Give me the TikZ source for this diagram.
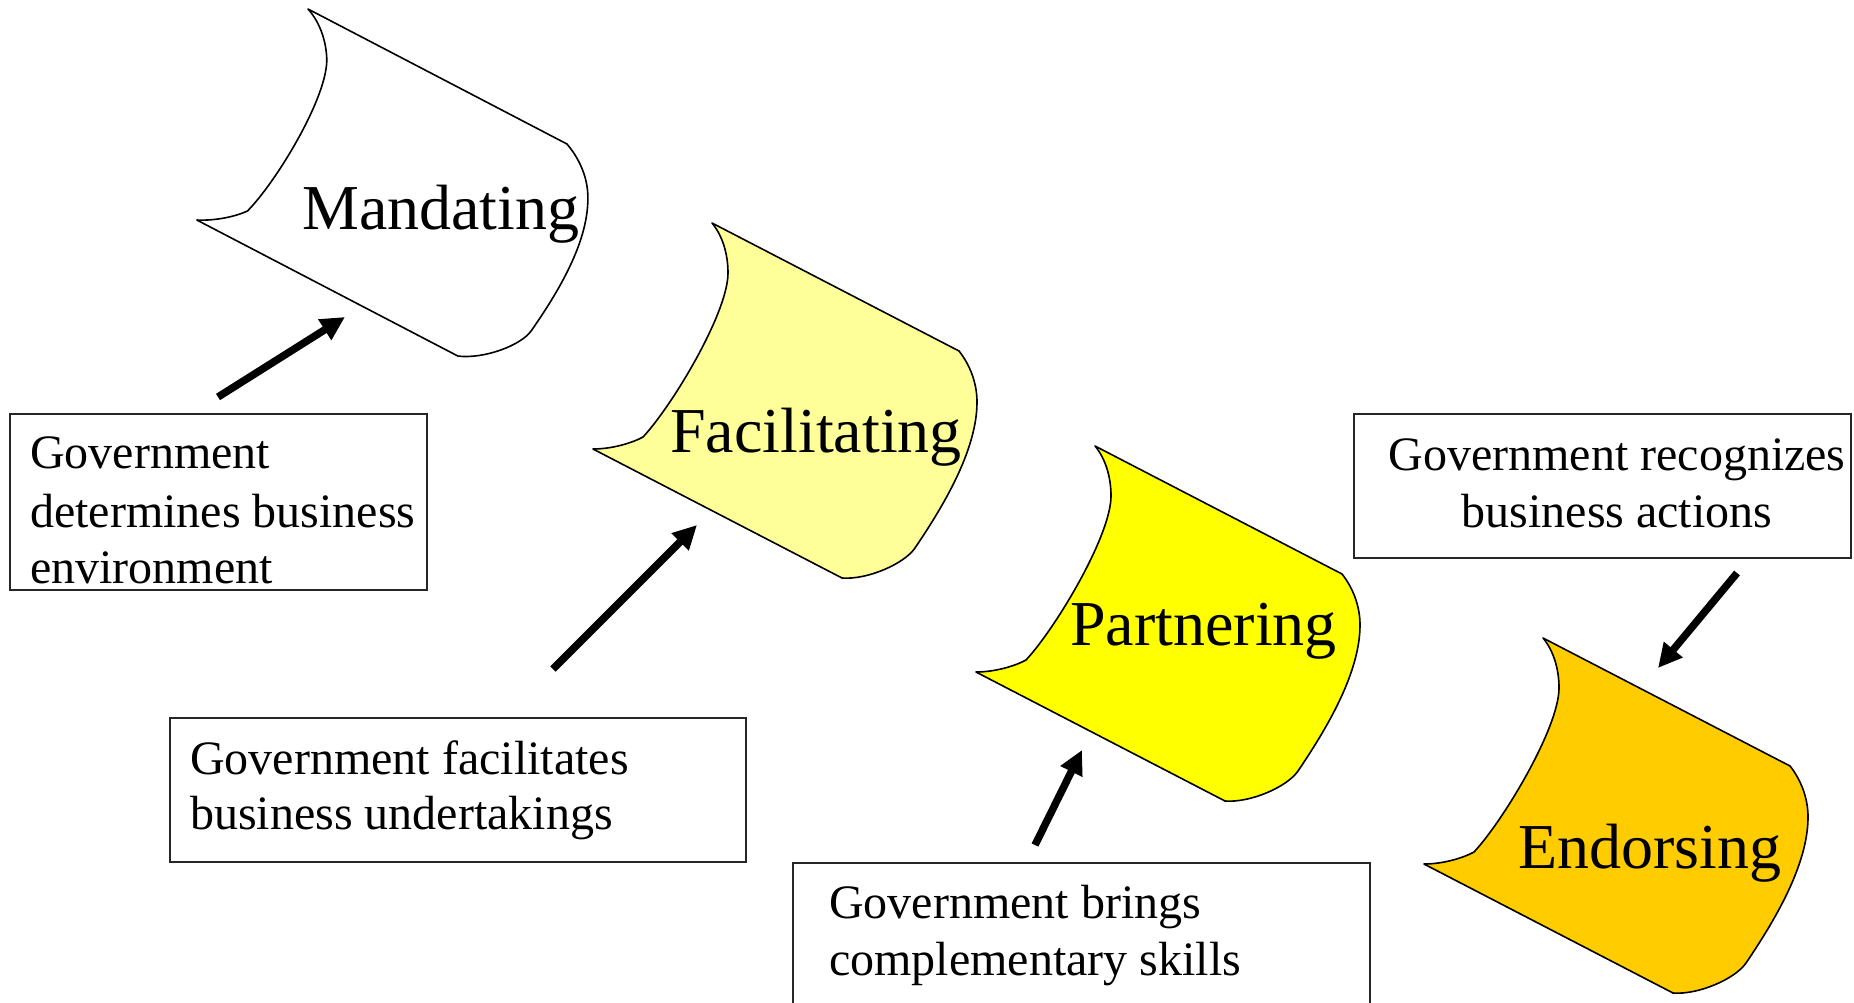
\documentclass[tikz,border=0pt]{standalone}
\usepackage{fontspec}
\setmainfont{Liberation Serif}
\usetikzlibrary{arrows.meta}
\definecolor{lightyel}{HTML}{FFFF99}
\definecolor{yel}{HTML}{FFFF00}
\definecolor{gold}{HTML}{FFCC00}
\tikzset{
  flag/.style={draw=black,line width=1.6pt,line join=round},
  box/.style={draw=black!85,line width=1.5pt,inner sep=0pt,anchor=north west},
  bigtxt/.style={font=\fontsize{64}{76}\selectfont,inner sep=0pt,anchor=base west},
  txt/.style={font=\fontsize{48}{58}\selectfont,inner sep=0pt,anchor=base west},
  ctxt/.style={font=\fontsize{48}{58}\selectfont,inner sep=0pt,anchor=base},
  govarrow/.style={line width=7.5pt,-{Triangle[length=24pt,width=23pt]}},
  flagpath/.style={insert path={(0,0) -- (247,128)
      .. controls (258,142) and (265,160) .. (265,179)
      .. controls (265,228) and (230,285) .. (203,325)
      .. controls (192,341) and (155,357) .. (130,355)
      -- (-119,226)
      .. controls (-100,226) and (-80,220) .. (-69,214)
      .. controls (-40,183) and (16,90) .. (16,50)
      .. controls (16,30) and (10,12) .. (0,0) -- cycle}}
}
\begin{document}
\begin{tikzpicture}[x=1pt,y=-1pt]
\useasboundingbox (0,0) rectangle (1854,1002);
\clip (0,0) rectangle (1854,1002);
\fill[white] (0,0) rectangle (1854,1002);

% flags
\begin{scope}[shift={(308,9)},cm={1.0238,-0.0492,-0.0473,0.9596,(0,0)}]
  \path[flag,fill=white,flagpath];
\end{scope}
\begin{scope}[shift={(712,223)}]
  \path[flag,fill=lightyel,flagpath];
\end{scope}
\begin{scope}[shift={(1095,446)}]
  \path[flag,fill=yel,flagpath];
\end{scope}
\begin{scope}[shift={(1543,638)}]
  \path[flag,fill=gold,flagpath];
\end{scope}

% flag labels
\node[bigtxt] (lm) at (302,229) {Mandating};
\node[bigtxt] (lf) at (670,452) {Facilitating};
\node[bigtxt] (lp) at (1070,645) {Partnering};
\node[bigtxt] (le) at (1518,868) {Endorsing};

% boxes
\node[box,minimum width=417pt,minimum height=176pt] (b1) at (9,413) {};
\node[box,minimum width=576pt,minimum height=144pt] (b2) at (169,717) {};
\node[box,minimum width=577pt,minimum height=170pt] (b3) at (792,862) {};
\node[box,minimum width=497pt,minimum height=144pt] (b4) at (1353,413) {};

% box texts
\node[txt] (t1a) at (30,468) {Government};
\node[txt] (t1b) at (30,527) {determines business};
\node[txt] (t1c) at (30,583) {environment};
\node[txt] (t2a) at (190,774) {Government facilitates};
\node[txt] (t2b) at (190,829) {business undertakings};
\node[txt] (t3a) at (829,918) {Government brings};
\node[txt] (t3b) at (829,975) {complementary skills};
\node[ctxt] (t4a) at (1617,470) {Government recognizes};
\node[ctxt] (t4b) at (1617,527) {business actions};

% arrows
\coordinate (a1s) at (218,397); \coordinate (a1e) at (345,317);
\coordinate (a2s) at (553,669); \coordinate (a2e) at (697,525);
\coordinate (a3s) at (1035,845); \coordinate (a3e) at (1082,750);
\coordinate (a4s) at (1737,573); \coordinate (a4e) at (1658,668);
\draw[govarrow] (a1s) -- (a1e);
\draw[govarrow] (a2s) -- (a2e);
\draw[govarrow] (a3s) -- (a3e);
\draw[govarrow] (a4s) -- (a4e);
\end{tikzpicture}
\end{document}
